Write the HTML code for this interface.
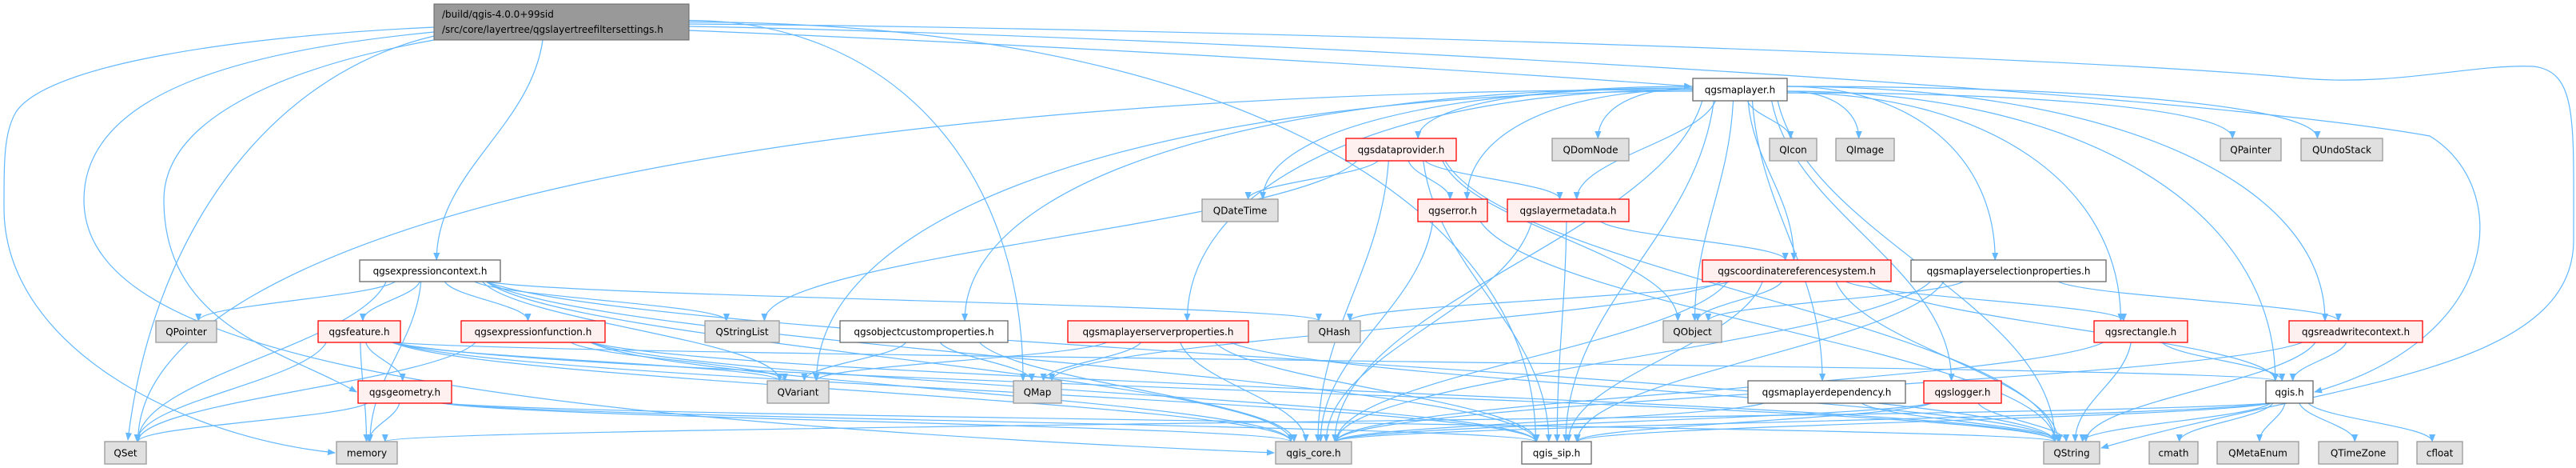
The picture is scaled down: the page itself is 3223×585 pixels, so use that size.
<!DOCTYPE html>
<html><head><meta charset="utf-8"><style>
html,body{margin:0;padding:0;background:#fff;width:3223px;height:585px;overflow:hidden}
svg{display:block}
text{font-family:"DejaVu Sans","Liberation Sans",sans-serif;font-size:12px;fill:#000}
</style></head><body>
<svg id="g" width="3223" height="585" viewBox="0 0 3223 585" xmlns="http://www.w3.org/2000/svg">
<defs><marker id="a" markerWidth="10" markerHeight="10" refX="9" refY="5" orient="auto" markerUnits="userSpaceOnUse"><path d="M0,1 L10,5 L0,9 z" fill="#63b8ff"/></marker></defs>
<g id="edges" fill="none" stroke="#63b8ff" stroke-width="1.2"></g>
<g id="nodes">
<rect x="543" y="5" width="319" height="45" fill="#999" stroke="#666"/>
<text x="553" y="22" text-anchor="start">/build/qgis-4.0.0+99sid</text>
<text x="553" y="41" text-anchor="start">/src/core/layertree/qgslayertreefiltersettings.h</text>
</g>
</svg>
<script>
var N={
mapl:[2118,98,2236,126,'qgsmaplayer.h','w'],
ectx:[450,325,626,352,'qgsexpressioncontext.h','w'],
QPointer:[195,401,271,428,'QPointer','g'],
feat:[398,401,501,428,'qgsfeature.h','r'],
efun:[577,401,757,428,'qgsexpressionfunction.h','r'],
QStringList:[882,401,975,428,'QStringList','g'],
ocp:[1051,401,1261,428,'qgsobjectcustomproperties.h','w'],
msp:[1336,401,1562,428,'qgsmaplayerserverproperties.h','r'],
QHash:[1637,401,1702,428,'QHash','g'],
QObject:[2081,401,2154,428,'QObject','g'],
rect:[2620,401,2737,428,'qgsrectangle.h','r'],
rwc:[2864,401,3031,428,'qgsreadwritecontext.h','r'],
dp:[1684,173,1822,201,'qgsdataprovider.h','r'],
QDomNode:[1942,173,2038,201,'QDomNode','g'],
QIcon:[2214,173,2273,201,'QIcon','g'],
QImage:[2297,173,2370,201,'QImage','g'],
QPainter:[2778,173,2854,201,'QPainter','g'],
QUndoStack:[2879,173,2981,201,'QUndoStack','g'],
QDateTime:[1504,249,1599,277,'QDateTime','g'],
err:[1774,249,1861,277,'qgserror.h','r'],
lmd:[1886,249,2038,277,'qgslayermetadata.h','r'],
crs:[2130,325,2366,352,'qgscoordinatereferencesystem.h','r'],
msel:[2391,325,2635,352,'qgsmaplayerselectionproperties.h','w'],
QVariant:[960,476,1037,504,'QVariant','g'],
geom:[448,476,565,504,'qgsgeometry.h','r'],
QMap:[1268,476,1328,504,'QMap','g'],
mdep:[2187,476,2384,504,'qgsmaplayerdependency.h','w'],
log:[2407,476,2504,504,'qgslogger.h','r'],
qgis:[2835,476,2894,504,'qgis.h','w'],
QSet:[131,552,183,580,'QSet','g'],
memory:[421,552,497,580,'memory','g'],
core:[1596,552,1691,580,'qgis_core.h','g'],
sip:[1904,552,1991,580,'qgis_sip.h','w'],
QString:[2557,552,2627,580,'QString','g'],
cmath:[2689,552,2750,580,'cmath','g'],
QMetaEnum:[2774,552,2876,580,'QMetaEnum','g'],
QTimeZone:[2901,552,3000,580,'QTimeZone','g'],
cfloat:[3024,552,3081,580,'cfloat','g']
};
N.root=[543,5,862,50];
var E={
root:['ectx','QMap','sip'],
mapl:['dp','QDomNode','QIcon','QImage','QPainter','QUndoStack','QDateTime','err','lmd','crs','msel','ocp','msp','QObject','rect','rwc','mdep','log','qgis','core','sip','QString','QSet','QVariant'],
dp:['QDateTime','err','lmd','QObject','QStringList','core','sip','QString'],
err:['core','QString'],
lmd:['crs','sip','core'],
crs:['QHash','QObject','rect','qgis','QMap','core','sip','QString'],
msel:['QObject','rwc','core','sip'],
ectx:['QPointer','feat','efun','QStringList','QVariant','QHash','QSet','core','sip','QString','memory'],
feat:['geom','memory','QSet','QVariant','core','sip','QString','qgis'],
efun:['QVariant','QSet','core','QString','sip'],
ocp:['QMap','QVariant','core'],
msp:['QMap','QVariant','core','sip','QString'],
geom:['QSet','memory','core','sip','QString'],
rect:['qgis','core','QString'],
rwc:['qgis','core','QString'],
mdep:['core','QString'],
log:['core','sip','QString'],
qgis:['core','sip','QString','cmath','QMetaEnum','QTimeZone','cfloat','memory']
};
var custom=[
'M543,34 C300,45 60,80 20,140 C5,165 5,200 5,260 C5,430 220,545 419,566',
'M543,40 C320,62 105,110 105,250 C105,430 500,520 1594,566',
'M543,50 C350,85 205,150 205,250 C205,410 360,440 446,490',
'M543,45 C330,95 190,300 160,550',
'M862,30 C1500,35 2600,70 2880,98 C3000,108 3090,80 3170,83 C3225,90 3220,150 3220,300 C3220,470 2900,480 2629,560',
'M862,33 C1500,45 2700,110 3040,170 C3140,230 3140,420 2896,490',
'M862,38 C1400,60 1900,92 2116,108'
];
var NS='http://www.w3.org/2000/svg',eg=document.getElementById('edges'),ng=document.getElementById('nodes');
function add(d){var p=document.createElementNS(NS,'path');p.setAttribute('d',d);p.setAttribute('marker-end','url(#a)');eg.appendChild(p);}
custom.forEach(add);
function cx(n){return (n[0]+n[2])/2}
for(var s in E){var a=N[s];E[s].forEach(function(t,i){var b=N[t];
 var x1,y1,x2,y2,d;
 var bw=b[2]-b[0];
 x2=cx(b)+Math.max(-bw*0.3,Math.min(bw*0.3,(cx(a)-cx(b))*0.05));y2=b[1];
 var dx=x2-cx(a),dy=y2-a[3];
 if((s=='mapl'||s=='root') && Math.abs(dx)>1.2*dy+60){
  y1=(a[1]+a[3])/2+(i%5-2)*2; x1=dx>0?a[2]:a[0];
  d='M'+x1+','+y1+' C'+(x1+(x2-x1)*0.6)+','+y1+' '+x2+','+(y1+(y2-y1)*0.4)+' '+x2+','+y2;
 }else{
  var w=a[2]-a[0];x1=cx(a)+Math.max(-w*0.4,Math.min(w*0.4,dx*0.15));y1=a[3];
  var h=(y2-y1)*0.4;
  d='M'+x1+','+y1+' C'+(x1+dx*0.1)+','+(y1+h)+' '+x2+','+(y2-h)+' '+x2+','+y2;
 }
 add(d);
});}
for(var k in N){if(k=='root')continue;var n=N[k];
 var r=document.createElementNS(NS,'rect');r.setAttribute('x',n[0]);r.setAttribute('y',n[1]);r.setAttribute('width',n[2]-n[0]);r.setAttribute('height',n[3]-n[1]);
 var st=n[5];r.setAttribute('fill',st=='g'?'#e0e0e0':st=='r'?'#fff0f0':'#fff');r.setAttribute('stroke',st=='g'?'#999':st=='r'?'#ff0000':'#666');r.setAttribute('stroke-width','1.3');ng.appendChild(r);
 var tx=document.createElementNS(NS,'text');tx.setAttribute('x',cx(n));tx.setAttribute('y',(n[1]+n[3])/2+4.5);tx.setAttribute('text-anchor','middle');tx.textContent=n[4];ng.appendChild(tx);}
</script>
</body></html>
